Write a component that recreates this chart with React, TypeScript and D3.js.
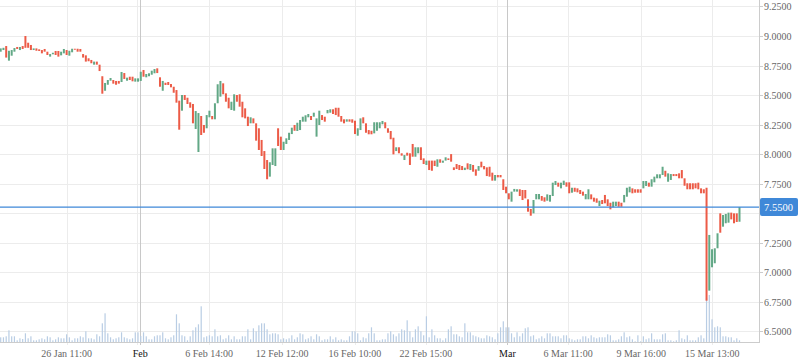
import React from 'react';
import * as d3 from 'd3';

// candle opens / closes, one per bar
const opens = [
  8.867, 8.881, 8.915, 8.791, 8.833, 8.867, 8.907, 8.881, 8.915, 9.000,
  8.943, 8.924, 8.881, 8.895, 8.887, 8.881, 8.890, 8.867, 8.825, 8.845,
  8.873, 8.873, 8.836, 8.853, 8.881, 8.833, 8.862, 8.892, 8.892, 8.890,
  8.847, 8.836, 8.811, 8.797, 8.757, 8.783, 8.757, 8.659, 8.536, 8.587,
  8.621, 8.627, 8.619, 8.619, 8.610, 8.686, 8.621, 8.655, 8.655, 8.613,
  8.613, 8.619, 8.712, 8.650, 8.659, 8.672, 8.684, 8.726, 8.650, 8.536,
  8.604, 8.610, 8.593, 8.570, 8.542, 8.452, 8.367, 8.500, 8.477, 8.438,
  8.424, 8.212, 8.017, 8.322, 8.246, 8.218, 8.311, 8.322, 8.294, 8.430,
  8.486, 8.599, 8.514, 8.477, 8.373, 8.367, 8.500, 8.506, 8.443, 8.387,
  8.316, 8.260, 8.302, 8.260, 8.218, 8.119, 8.025, 7.949, 7.808, 7.907,
  7.898, 8.218, 8.147, 8.034, 8.085, 8.119, 8.169, 8.246, 8.195, 8.203,
  8.274, 8.274, 8.311, 8.322, 8.316, 8.147, 8.246, 8.330, 8.316, 8.345,
  8.350, 8.379, 8.392, 8.392, 8.322, 8.294, 8.274, 8.294, 8.294, 8.282,
  8.155, 8.203, 8.311, 8.260, 8.203, 8.197, 8.175, 8.197, 8.218, 8.252,
  8.269, 8.218, 8.195, 8.138, 8.025, 8.057, 8.006, 7.949, 8.011, 8.006,
  8.085, 7.977, 8.006, 8.057, 7.963, 7.907, 7.944, 7.944, 7.944, 7.892,
  7.955, 7.926, 7.944, 7.963, 7.999, 7.887, 7.915, 7.907, 7.898, 7.864,
  7.921, 7.864, 7.907, 7.870, 7.858, 7.935, 7.898, 7.887, 7.892, 7.842,
  7.774, 7.822, 7.822, 7.786, 7.723, 7.667, 7.596, 7.681, 7.681, 7.701,
  7.695, 7.695, 7.616, 7.534, 7.497, 7.616, 7.616, 7.644, 7.633, 7.604,
  7.596, 7.644, 7.737, 7.757, 7.709, 7.737, 7.760, 7.760, 7.672, 7.714,
  7.709, 7.695, 7.681, 7.616, 7.616, 7.658, 7.630, 7.624, 7.559, 7.610,
  7.653, 7.616, 7.587, 7.548, 7.559, 7.596, 7.587, 7.590, 7.638, 7.675,
  7.709, 7.701, 7.701, 7.701, 7.709, 7.729, 7.757, 7.723, 7.760, 7.794,
  7.794, 7.822, 7.858, 7.765, 7.780, 7.830, 7.830, 7.836, 7.864, 7.794,
  7.752, 7.752, 7.752, 7.752, 7.757, 7.709, 7.701, 7.714, 6.842, 7.040,
  7.074, 7.201, 7.497, 7.384, 7.413, 7.418, 7.503, 7.497, 7.497, 7.426,
];

const closes = [
  8.895, 8.900, 8.817, 8.875, 8.881, 8.898, 8.890, 8.907, 8.890, 8.900,
  8.900, 8.881, 8.895, 8.875, 8.873, 8.853, 8.867, 8.839, 8.847, 8.858,
  8.839, 8.825, 8.867, 8.890, 8.839, 8.875, 8.892, 8.884, 8.867, 8.867,
  8.817, 8.783, 8.786, 8.769, 8.783, 8.757, 8.703, 8.511, 8.602, 8.627,
  8.644, 8.596, 8.587, 8.596, 8.695, 8.636, 8.647, 8.627, 8.616, 8.641,
  8.641, 8.697, 8.655, 8.678, 8.684, 8.706, 8.720, 8.686, 8.570, 8.619,
  8.585, 8.585, 8.565, 8.519, 8.435, 8.206, 8.500, 8.458, 8.424, 8.392,
  8.260, 8.364, 8.347, 8.161, 8.180, 8.330, 8.367, 8.294, 8.430, 8.591,
  8.619, 8.506, 8.443, 8.387, 8.443, 8.506, 8.443, 8.401, 8.311, 8.302,
  8.237, 8.311, 8.260, 8.113, 8.034, 7.983, 7.873, 7.786, 7.930, 8.048,
  8.048, 8.068, 8.034, 8.104, 8.133, 8.180, 8.223, 8.197, 8.265, 8.288,
  8.316, 8.328, 8.339, 8.288, 8.350, 8.302, 8.367, 8.288, 8.274, 8.373,
  8.379, 8.339, 8.330, 8.316, 8.274, 8.260, 8.294, 8.274, 8.265, 8.169,
  8.218, 8.302, 8.260, 8.180, 8.167, 8.167, 8.269, 8.269, 8.269, 8.280,
  8.218, 8.180, 8.125, 7.997, 8.057, 8.006, 7.986, 7.991, 7.986, 7.907,
  7.977, 8.057, 8.057, 7.949, 7.915, 7.944, 7.864, 7.858, 7.898, 7.955,
  7.926, 7.944, 7.972, 7.949, 7.935, 7.864, 7.873, 7.864, 7.864, 7.884,
  7.870, 7.915, 7.850, 7.816, 7.898, 7.887, 7.870, 7.813, 7.808, 7.774,
  7.822, 7.802, 7.802, 7.695, 7.667, 7.616, 7.681, 7.704, 7.701, 7.644,
  7.610, 7.624, 7.511, 7.477, 7.610, 7.661, 7.661, 7.604, 7.596, 7.658,
  7.653, 7.757, 7.771, 7.723, 7.757, 7.774, 7.723, 7.667, 7.714, 7.680,
  7.675, 7.661, 7.647, 7.661, 7.701, 7.616, 7.596, 7.587, 7.604, 7.576,
  7.582, 7.559, 7.531, 7.596, 7.596, 7.553, 7.553, 7.653, 7.714, 7.723,
  7.667, 7.672, 7.672, 7.672, 7.771, 7.771, 7.723, 7.786, 7.808, 7.828,
  7.828, 7.892, 7.808, 7.836, 7.830, 7.813, 7.813, 7.794, 7.794, 7.731,
  7.701, 7.701, 7.701, 7.709, 7.701, 7.667, 7.667, 6.757, 7.314, 7.193,
  7.201, 7.328, 7.333, 7.483, 7.492, 7.503, 7.446, 7.413, 7.424, 7.550,
];

// volume (relative units)
const volumes = [
  4.7, 4.7, 5.7, 11.7, 5.7, 5.7, 1.7, 3.7, 3, 8.7,
  3.7, 5.7, 1.7, 1.7, 2.7, 3.7, 2.7, 5.7, 4.7, 1.7,
  2.7, 4.7, 3.7, 3.7, 7.7, 4.7, 1.7, 3.7, 3.7, 5.7,
  4.7, 10.7, 3.7, 3.7, 2.7, 7.7, 5.7, 18.7, 28.7, 8.7,
  4.7, 2.7, 3.7, 4.7, 9.7, 4.7, 3.7, 2.7, 3.7, 9.7,
  9.7, 6, 9.7, 5.7, 2.7, 2.7, 5.7, 6.7, 6.7, 9.7,
  3.7, 2.7, 4.7, 6.7, 27.7, 18.7, 6.7, 5.7, 1.7,
  5.7, 11.7, 14.7, 17.7, 35.7, 4.7, 5.7, 6.7, 5.7, 12.7,
  5.7, 6.7, 2.7, 3.7, 6.7, 2.7, 5.7, 2.7, 2.7, 5.7,
  5.7, 12.7, 2.7, 13.7, 10.7, 16.7, 18.7, 18.7, 12.7, 7.7,
  8.7, 8.7, 7.7, 2.7, 3.7, 2.7, 3.7, 6.7, 2.7, 4.7,
  8.7, 7.7, 2.7, 3.7, 5.7, 2.7, 7.7, 5.7, 1.7, 2.7,
  2.7, 5.7, 2.7, 4.7, 1.7, 2.7, 1.7, 1.7, 5.7, 10.7,
  10.7, 8.7, 1.7, 4.7, 3.7, 8.7, 14.7, 8.7, 1.7,
  1.7, 2.7, 2.7, 8.7, 10.7, 7.7, 5.7, 8.7, 12.7, 11.7,
  21.7, 10.7, 4.7, 12.7, 15.7, 10.7, 6.7, 25.7, 4.7, 12.7,
  6.7, 3.7, 3.7, 1.7, 3.7, 12.7, 15.7, 7.7, 7.7, 5.7,
  4.7, 18.7, 9.7, 9.7, 6.7, 5.7, 4.7, 3.7, 3.7, 6.7,
  5.7, 4.7, 2.7, 8.7, 14.7, 20.7, 14.7, 14.7, 8.7, 4.7,
  9.7, 5.7, 8.7, 13.7, 14.7, 5.7, 6.7, 2.7, 3.7, 5.7,
  3.7, 8.7, 8.7, 5.7, 5.7, 5.7, 3.7, 6.7, 6.7,
  3.7,
  2.7, 1.7, 2.7, 2.7, 5.7, 5.7, 3.7, 6.7, 4.7, 3.7,
  4.7, 4.7, 4.7, 7.7, 6.7, 1.7, 1.7, 2.7, 5.7, 9.7,
  4.7, 5.7, 2.7, 0.7, 6.7, 0.7, 5.7, 2.7, 3.7, 8.7,
  2.7, 2.7, 2.7, 7.7, 8.7, 1.7, 1.7, 0.7, 1.7, 11.7,
  3.7, 2.7, 6.7, 1.7, 1.7, 1.7, 4.7, 6.7, 3.7, 44,
  47, 22.7, 14.7, 15.7, 14.7, 5.7, 5.7, 4.7, 4.7, 1.7,
  3.7,
  1.7,
];

// time axis: grid positions (bar index) and labels
const gridIdx = [24, 49.6, 75.9, 102.5, 129, 154.8, 180.8, 206.6, 233.2, 259.1];
const timeLabels = ['26 Jan 11:00', '', '6 Feb 14:00', '12 Feb 12:00', '16 Feb 10:00', '22 Feb 15:00', '', '6 Mar 11:00', '9 Mar 16:00', '15 Mar 13:00'];
const monthIdx = [50.8, 184.5];
const monthLabels = ['Feb', 'Mar'];

const priceTicks = [6.5, 6.75, 7.0, 7.25, 7.5, 7.75, 8.0, 8.25, 8.5, 8.75, 9.0, 9.25];
const lastPrice = 7.55;

const W = 798;
const H = 363;
const plotRight = 759;
const plotBottom = 342;
const font = '"Liberation Serif", "Times New Roman", serif';

export default function App() {
  const n = opens.length;
  const x = d3.scaleLinear().domain([0, n - 1]).range([0.7, 739.5]);
  const y = d3.scaleLinear().domain([6.5, 9.0]).range([331, 36]);
  const yv = d3.scaleLinear().domain([0, 100]).range([plotBottom, plotBottom - 100]);
  const fmt = d3.format('.4f');
  const lastY = y(lastPrice);

  return (
    <div style={{ position: 'absolute', left: 0, top: 0 }}>
      <svg width={W} height={H} style={{ display: 'block', background: '#fff' }}>
        {/* horizontal grid */}
        {priceTicks.map(t => (
          <line key={'h' + t} x1={0} x2={plotRight} y1={Math.round(y(t)) + 0.5} y2={Math.round(y(t)) + 0.5} stroke="#ececec" />
        ))}
        {/* vertical grid */}
        {gridIdx.map(i => (
          <line key={'v' + i} x1={Math.round(x(i)) + 0.5} x2={Math.round(x(i)) + 0.5} y1={0} y2={plotBottom + 3} stroke="#ececec" />
        ))}
        {monthIdx.map(i => (
          <line key={'m' + i} x1={Math.round(x(i)) + 0.5} x2={Math.round(x(i)) + 0.5} y1={0} y2={plotBottom + 3} stroke="#c8c8c8" />
        ))}

        {/* volume */}
        {volumes.map((v, i) => (
          <rect key={'vol' + i} x={x(i) - 0.6} width={1.2} y={yv(v)} height={plotBottom - yv(v)} fill="#b9cde4" />
        ))}

        {/* candles */}
        {opens.map((o, i) => {
          const c = closes[i];
          const top = y(Math.max(o, c));
          const h = Math.max(1, Math.abs(y(o) - y(c)));
          return (
            <rect key={'c' + i} x={x(i) - 1} width={2} y={top} height={h} fill={c >= o ? '#62a886' : '#ec5b47'} />
          );
        })}

        {/* last price line */}
        <line x1={0} x2={plotRight} y1={lastY} y2={lastY} stroke="#3f88d8" strokeWidth={1.2} />

        {/* axes */}
        <line x1={0} x2={plotRight} y1={plotBottom + 0.5} y2={plotBottom + 0.5} stroke="#cccccc" />
        <line x1={plotRight + 0.5} x2={plotRight + 0.5} y1={0} y2={plotBottom + 1} stroke="#cccccc" />

        {priceTicks.map(t => (
          <g key={'yt' + t} transform={`translate(${plotRight},${Math.round(y(t)) + 0.5})`}>
            <line x1={0} x2={4} stroke="#cccccc" />
            {Math.abs(y(t) - lastY) > 12 ? (
              <text x={5} dy="0.33em" fontFamily={font} fontSize={10} fill="#666">{fmt(t)}</text>
            ) : null}
          </g>
        ))}

        <g transform={`translate(${plotRight},${lastY})`}>
          <rect x={1} y={-9} width={W - plotRight - 1} height={18} rx={2} fill="#3f88d8" />
          <text x={5} dy="0.35em" fontFamily={font} fontSize={10.5} fill="#fff">{fmt(lastPrice)}</text>
        </g>

        {gridIdx.map((i, k) => timeLabels[k] ? (
          <text key={'xt' + i} x={x(i)} y={357} textAnchor="middle" fontFamily={font} fontSize={10} fill="#666">{timeLabels[k]}</text>
        ) : null)}
        {monthIdx.map((i, k) => (
          <text key={'mt' + i} x={x(i)} y={357} textAnchor="middle" fontFamily={font} fontSize={10} fill="#111">{monthLabels[k]}</text>
        ))}
      </svg>
    </div>
  );
}
